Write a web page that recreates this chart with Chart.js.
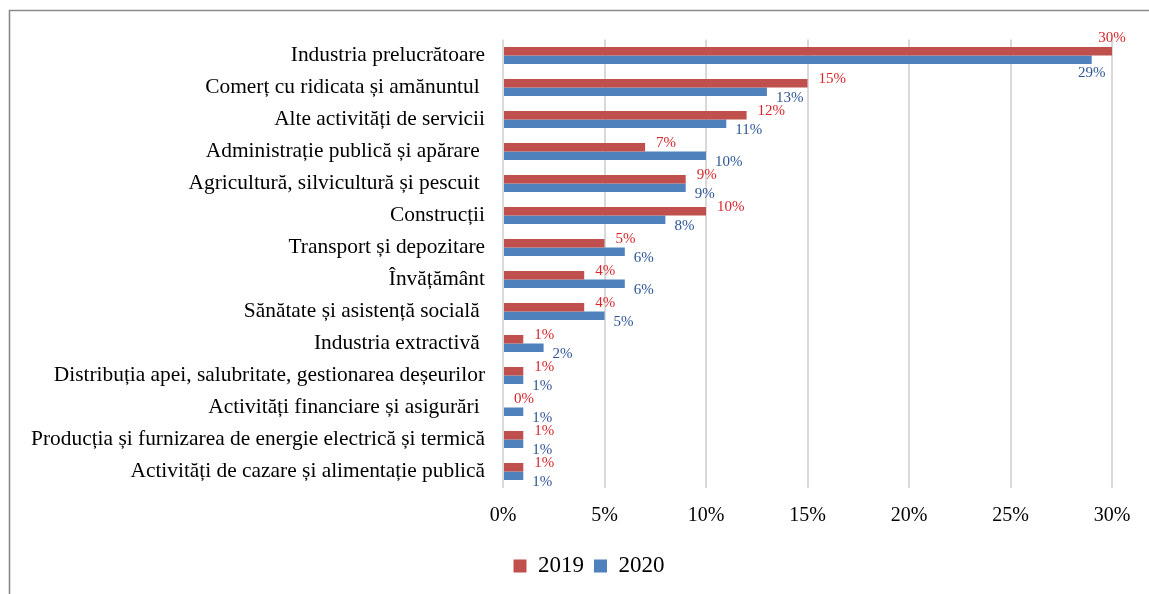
<!DOCTYPE html>
<html>
<head>
<meta charset="utf-8">
<script src="https://cdn.jsdelivr.net/npm/chart.js@4/dist/chart.umd.min.js"></script>
<style>
  html, body { margin: 0; padding: 0; background: #ffffff; }
  #wrap { position: relative; width: 1149px; height: 594px; }
</style>
</head>
<body>
<div id="wrap"><canvas id="c" width="1149" height="594"></canvas></div>
<script>
const categories = [
  "Industria prelucrătoare",
  "Comerț cu ridicata și amănuntul ",
  "Alte activități de servicii",
  "Administrație publică și apărare ",
  "Agricultură, silvicultură și pescuit ",
  "Construcții",
  "Transport și depozitare",
  "Învățământ",
  "Sănătate și asistență socială ",
  "Industria extractivă ",
  "Distribuția apei, salubritate, gestionarea deșeurilor",
  "Activități financiare și asigurări ",
  "Producția și furnizarea de energie electrică și termică",
  "Activități de cazare și alimentație publică"
];
const seriesNames = ["2019", "2020"];
const values2019 = [30, 15, 12, 7, 9, 10, 5, 4, 4, 1, 1, 0, 1, 1];
const values2020 = [29, 13, 11, 10, 9, 8, 6, 6, 5, 2, 1, 1, 1, 1];
const xTicks = [0, 5, 10, 15, 20, 25, 30];

const SERIF = "'Liberation Serif', 'Times New Roman', serif";
const barColors = ["#C0504D", "#4F81BD"];
const labelColors = ["#d8262b", "#2e5594"];

const framePlugin = {
  id: 'frame',
  beforeDraw(chart) {
    const ctx = chart.ctx;
    ctx.save();
    ctx.fillStyle = '#ffffff';
    ctx.fillRect(0, 0, chart.width, chart.height);
    ctx.strokeStyle = '#8a8a8a';
    ctx.lineWidth = 1.6;
    ctx.beginPath();
    ctx.moveTo(9.5, chart.height);
    ctx.lineTo(9.5, 10.5);
    ctx.lineTo(chart.width, 10.5);
    ctx.stroke();
    ctx.restore();
  }
};

// let long category labels extend into the left padding instead of being clipped
const labelAreaPlugin = {
  id: 'labelArea',
  afterLayout(chart) {
    const y = chart.scales.y;
    if (y) { y.left = 0; }
  }
};

const valueLabelPlugin = {
  id: 'valueLabels',
  afterDatasetsDraw(chart) {
    const ctx = chart.ctx;
    const area = chart.chartArea;
    ctx.save();
    ctx.font = '15px ' + SERIF;
    ctx.textBaseline = 'middle';
    ctx.textAlign = 'left';
    chart.data.datasets.forEach((ds, di) => {
      const meta = chart.getDatasetMeta(di);
      meta.data.forEach((el, i) => {
        const v = ds.data[i];
        const txt = Math.round(v) + '%';
        const w = ctx.measureText(txt).width;
        const h = el.height;
        let x = el.x + (di === 0 ? 11 : 9);
        let y = di === 0 ? el.y - 0.5 * h : el.y + 0.7 * h;
        if (x + w > area.right) {
          x = el.x - w / 2;
          y = di === 0 ? el.y - 1.5 * h : el.y + 1.6 * h;
        }
        ctx.fillStyle = labelColors[di];
        ctx.fillText(txt, x, y);
      });
    });
    ctx.restore();
  }
};

new Chart(document.getElementById('c'), {
  type: 'bar',
  data: {
    labels: categories,
    datasets: [
      { label: seriesNames[0], data: values2019, backgroundColor: barColors[0], borderWidth: 0 },
      { label: seriesNames[1], data: values2020, backgroundColor: barColors[1], borderWidth: 0 }
    ]
  },
  options: {
    indexAxis: 'y',
    responsive: false,
    animation: false,
    devicePixelRatio: 1,
    categoryPercentage: 0.53,
    barPercentage: 1.0,
    layout: { padding: { left: 66, right: 37, top: 39.5, bottom: 6.5 } },
    scales: {
      x: {
        min: 0, max: 30,
        afterBuildTicks(scale) { scale.ticks = xTicks.map(v => ({ value: v })); },
        afterFit(scale) { scale.height = 57; },
        ticks: {
          callback: v => v + '%',
          color: '#000000',
          font: { family: SERIF, size: 20 },
          padding: 16,
          maxRotation: 0
        },
        grid: { color: '#d9d9d9', lineWidth: 2, drawTicks: false },
        border: { display: false }
      },
      y: {
        afterFit(scale) { scale.width = 437; },
        ticks: {
          color: '#000000',
          font: { family: SERIF, size: 21.4 },
          padding: 18,
          autoSkip: false
        },
        grid: { display: false, drawTicks: false },
        border: { display: false }
      }
    },
    plugins: {
      legend: {
        position: 'bottom',
        labels: {
          color: '#000000',
          font: { family: SERIF, size: 23 },
          boxWidth: 13,
          boxHeight: 13,
          padding: 10
        }
      },
      tooltip: { enabled: false }
    }
  },
  plugins: [framePlugin, labelAreaPlugin, valueLabelPlugin]
});
</script>
</body>
</html>
